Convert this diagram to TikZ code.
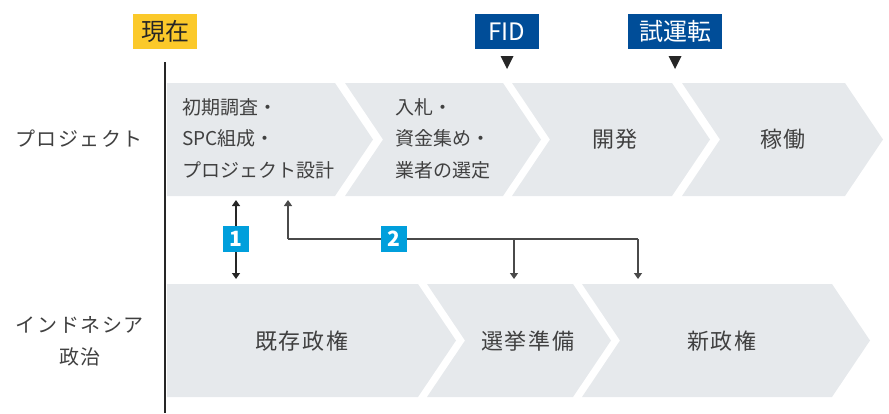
\documentclass[tikz,border=0pt]{standalone}
\usepackage{fontspec}
\setmainfont{Noto Sans CJK JP}
\usetikzlibrary{arrows.meta}
\definecolor{chev}{HTML}{E6E9EC}
\definecolor{txt}{HTML}{404040}
\definecolor{blu}{HTML}{004D98}
\definecolor{yel}{HTML}{FBC92A}
\definecolor{cyn}{HTML}{009FDC}
\definecolor{lin}{HTML}{4A4A4A}
\begin{document}
\begin{tikzpicture}[x=1pt,y=-1pt,
  chevfill/.style={fill=chev,draw=none},
  lbl/.style={text=txt,inner sep=0pt,font=\fontsize{19}{31.5}\selectfont},
  biglbl/.style={text=txt,inner sep=0pt,font=\fontsize{22}{26}\selectfont\addfontfeatures{LetterSpace=9}},
  tagbox/.style={inner sep=0pt,minimum height=35pt,font=\fontsize{24}{26}\selectfont},
  numbox/.style={fill=cyn,text=white,inner sep=0pt,minimum width=26pt,minimum height=26pt,font=\fontsize{21}{22}\selectfont\bfseries},
  conn/.style={draw=lin,line width=1.3pt},
  arrtip/.style={-{Triangle[length=6pt,width=8pt]}},
  arrtwo/.style={{Triangle[length=6pt,width=8pt]}-{Triangle[length=6pt,width=8pt]}},
  milestone/.style={fill=black!85,draw=none}
]
\useasboundingbox (0,0) rectangle (889,413);
% top row chevrons
\path[chevfill] (167,83) -- (335,83) -- (373,139.5) -- (335,196) -- (167,196) -- cycle;
\path[chevfill] (345,83) -- (503,83) -- (541,139.5) -- (503,196) -- (345,196) -- (383,139.5) -- cycle;
\path[chevfill] (512,83) -- (672,83) -- (710,139.5) -- (672,196) -- (512,196) -- (550,139.5) -- cycle;
\path[chevfill] (682,83) -- (845,83) -- (883,139.5) -- (845,196) -- (682,196) -- (720,139.5) -- cycle;
% bottom row chevrons
\path[chevfill] (167,284) -- (418,284) -- (456,340.5) -- (418,397) -- (167,397) -- cycle;
\path[chevfill] (427,284) -- (573,284) -- (611,340.5) -- (573,397) -- (427,397) -- (465,340.5) -- cycle;
\path[chevfill] (582,284) -- (832,284) -- (870,340.5) -- (832,397) -- (582,397) -- (620,340.5) -- cycle;
% vertical now line
\coordinate (vtop) at (165,62);
\coordinate (vbot) at (165,413);
\draw[line width=2.2pt,black!85] (vtop) -- (vbot);
% tags
\node[tagbox,fill=yel,text=black!85,minimum width=64pt] (now) at (165,31.5) {現在};
\node[tagbox,fill=blu,text=white,minimum width=64pt] (fid) at (507,31.5) {FID};
\node[tagbox,fill=blu,text=white,minimum width=94pt] (trial) at (675,31.5) {試運転};
\path[milestone] (500.5,56) -- (513.5,56) -- (507,69) -- cycle;
\path[milestone] (668.5,56) -- (681.5,56) -- (675,69) -- cycle;
% row labels
\node[lbl,font=\fontsize{20}{26}\selectfont\addfontfeatures{LetterSpace=8}] (rproj) at (79,139) {プロジェクト};
\node[lbl,align=center,font=\fontsize{20}{32}\selectfont\addfontfeatures{LetterSpace=8}] (rpol) at (80,341) {インドネシア\\政治};
% top texts
\node[lbl,anchor=west,align=left] (t1) at (182,138.5) {初期調査・\\SPC組成・\\プロジェクト設計};
\node[lbl,anchor=west,align=left] (t2) at (395,138.5) {入札・\\資金集め・\\業者の選定};
\node[biglbl] (t3) at (615,139) {開発};
\node[biglbl] (t4) at (783,139) {稼働};
% bottom texts
\node[biglbl] (b1) at (302,341) {既存政権};
\node[biglbl] (b2) at (528,341) {選挙準備};
\node[biglbl] (b3) at (722,341) {新政権};
% connectors
\coordinate (a1t) at (236,200);
\coordinate (a1b) at (236,279);
\draw[conn,draw=black!85,arrtwo] (a1t) -- (a1b);
\node[numbox] (n1) at (236,239) {1};
\coordinate (a2t) at (288,200);
\coordinate (a2c) at (288,239);
\coordinate (a2m) at (514,239);
\coordinate (a2r) at (638,239);
\coordinate (a2mb) at (514,279);
\coordinate (a2rb) at (638,279);
\draw[conn,arrtip] (a2c) -- (a2t);
\draw[conn] (a2c) -- (a2r);
\draw[conn,arrtip] (a2m) -- (a2mb);
\draw[conn,arrtip] (a2r) -- (a2rb);
\node[numbox] (n2) at (394,239) {2};
\end{tikzpicture}
\end{document}
